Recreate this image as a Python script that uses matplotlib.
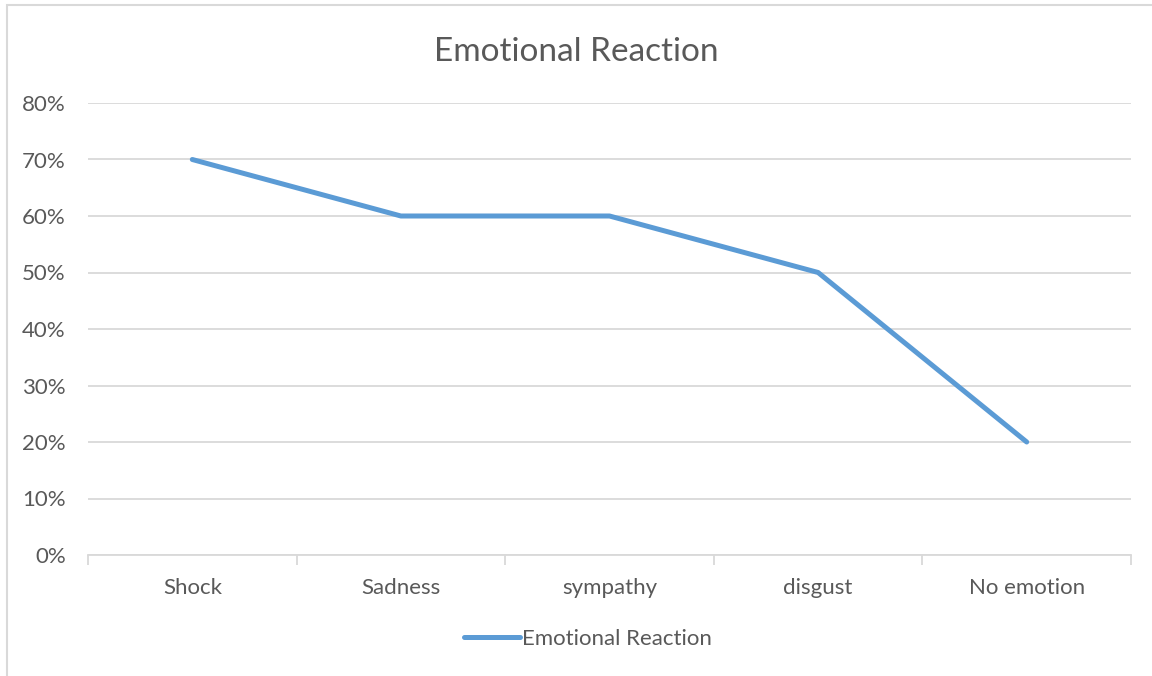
import matplotlib
matplotlib.use("Agg")
import matplotlib.pyplot as plt
from matplotlib.patches import Rectangle
from matplotlib.ticker import FuncFormatter
import numpy as np

categories = ["Shock", "Sadness", "sympathy", "disgust", "No emotion"]
values = [0.70, 0.60, 0.60, 0.50, 0.20]
series_name = "Emotional Reaction"

plt.rcParams['font.family'] = ['Lato', 'DejaVu Sans']
text_col = "#595959"
grid_col = "#D9D9D9"
line_col = "#5B9BD5"

fig = plt.figure(figsize=(11.52, 6.76), dpi=100)
ax = fig.add_axes([88/1152, 121/676, (1131-88)/1152, (555-103)/676])

x = np.arange(len(categories))
line, = ax.plot(x, values, color=line_col, linewidth=3.6, solid_capstyle='round',
                solid_joinstyle='round', label=series_name)

ax.set_xlim(-0.5, len(categories) - 0.5)
ax.set_ylim(0, 0.8)
ax.set_yticks(np.arange(0, 0.81, 0.1))
ax.yaxis.set_major_formatter(FuncFormatter(lambda v, p: f"{v*100:.0f}%"))
ax.set_xticks(x)
ax.set_xticklabels(categories)
ax.set_xticks(np.arange(-0.5, len(categories)), minor=True)

ax.grid(axis='y', color=grid_col, linewidth=1.3)
ax.set_axisbelow(True)
for s in ['top', 'right', 'left']:
    ax.spines[s].set_visible(False)
ax.spines['bottom'].set_color(grid_col)
ax.spines['bottom'].set_linewidth(1.3)

ax.tick_params(axis='y', length=0, pad=16, labelsize=16, labelcolor=text_col)
ax.tick_params(axis='x', which='major', length=0, pad=16.5, labelsize=16, labelcolor=text_col)
ax.tick_params(axis='x', which='minor', length=7, width=1.3, color=grid_col)

fig.text(0.5, 1 - 52/676, "Emotional Reaction", ha='center', va='center',
         fontsize=24, color=text_col)

fig.legend(handles=[line], loc='center', bbox_to_anchor=(588/1152, 1 - 639/676),
           frameon=False, fontsize=16, labelcolor=text_col, handlelength=2.5,
           handletextpad=0.1)

fig.patches.append(Rectangle((7/1152, -0.1), 1.2, 1 - 5/676 + 0.1, transform=fig.transFigure,
                             fill=False, edgecolor=grid_col, linewidth=1.5))

fig.savefig("out.png", dpi=100)
